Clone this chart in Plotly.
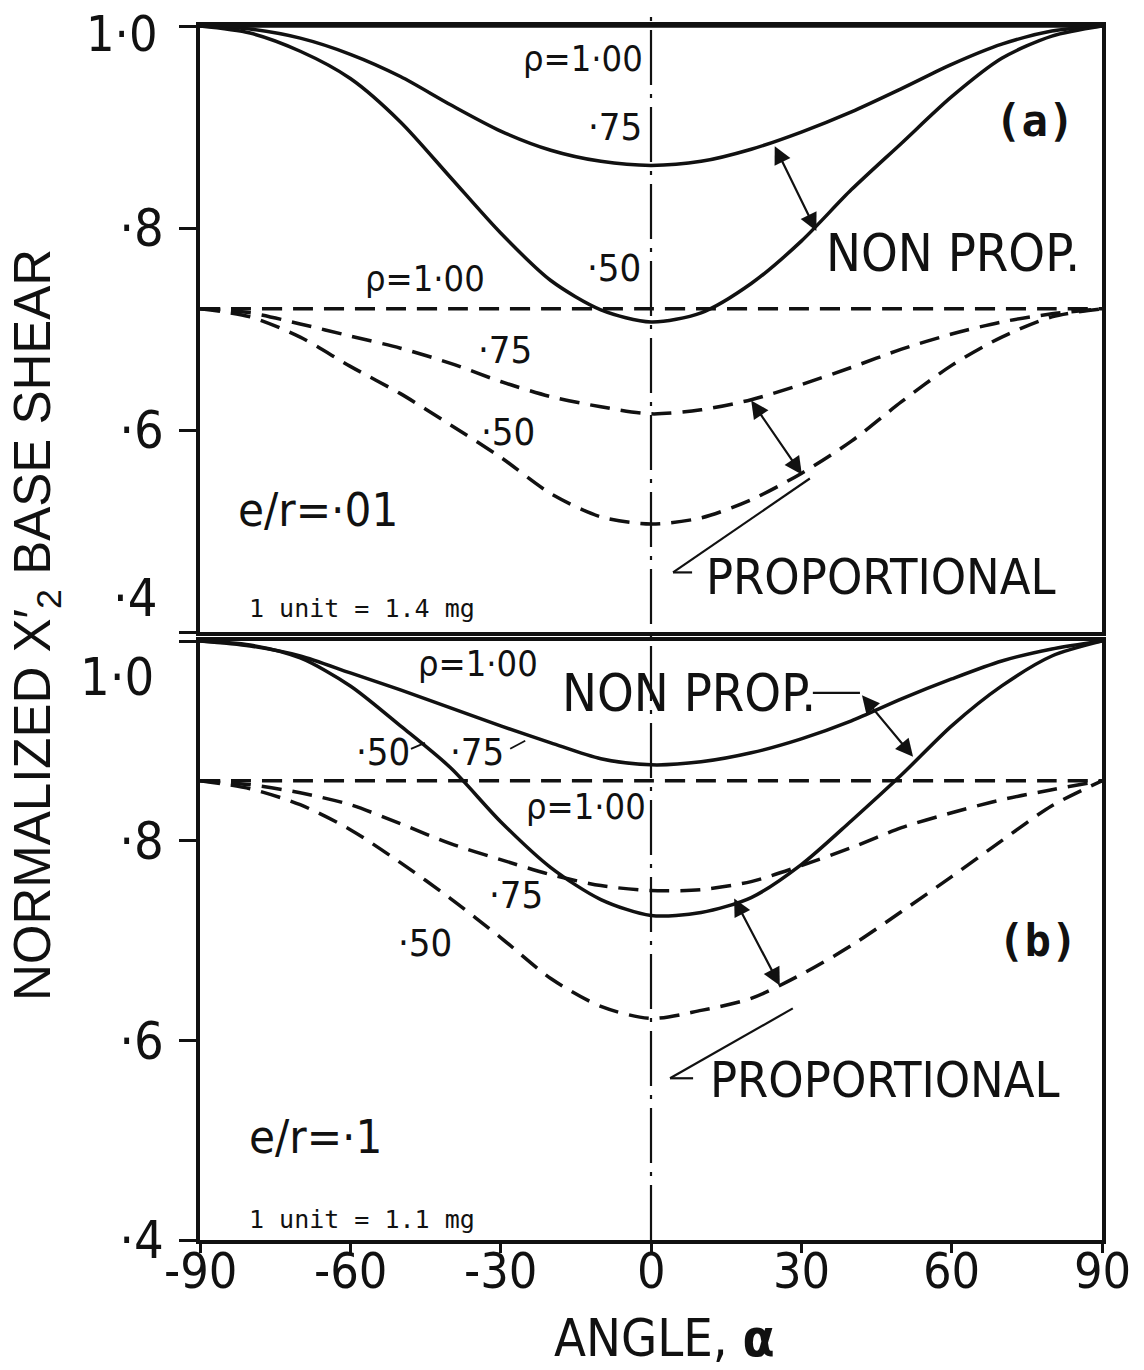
import plotly.graph_objects as go

# ---------------- data ----------------
angles = [-90, -80, -70, -60, -50, -40, -30, -20, -10, 0, 10, 20, 30, 40, 50, 60, 70, 80, 90]

# panel (a)  e/r = .01   -- non proportional (solid)
a_np_100 = [1.000, 1.000, 1.000, 1.000, 1.000, 1.000, 1.000, 1.000, 1.000, 1.000,
            1.000, 1.000, 1.000, 1.000, 1.000, 1.000, 1.000, 1.000, 1.000]
a_np_075 = [1.000, 0.997, 0.988, 0.972, 0.950, 0.922, 0.896, 0.877, 0.866, 0.862,
            0.866, 0.878, 0.895, 0.915, 0.938, 0.962, 0.982, 0.995, 1.000]
a_np_050 = [1.000, 0.993, 0.975, 0.948, 0.905, 0.850, 0.795, 0.748, 0.719, 0.707,
            0.716, 0.745, 0.787, 0.838, 0.884, 0.930, 0.968, 0.990, 1.000]
# panel (a)  -- proportional (dashed)
a_p_100 = [0.720, 0.720, 0.720, 0.720, 0.720, 0.720, 0.720, 0.720, 0.720, 0.720,
           0.720, 0.720, 0.720, 0.720, 0.720, 0.720, 0.720, 0.720, 0.720]
a_p_075 = [0.720, 0.716, 0.705, 0.693, 0.681, 0.666, 0.648, 0.633, 0.623, 0.616,
           0.620, 0.630, 0.645, 0.662, 0.680, 0.695, 0.707, 0.715, 0.720]
a_p_050 = [0.720, 0.712, 0.692, 0.663, 0.636, 0.605, 0.573, 0.537, 0.514, 0.507,
           0.513, 0.531, 0.557, 0.589, 0.628, 0.664, 0.692, 0.712, 0.720]

# panel (b)  e/r = .1   -- non proportional (solid)
b_np_100 = [1.000, 0.995, 0.985, 0.968, 0.951, 0.933, 0.915, 0.898, 0.882, 0.876,
            0.879, 0.888, 0.902, 0.920, 0.942, 0.962, 0.980, 0.992, 1.000]
b_np_050 = [1.000, 0.996, 0.983, 0.955, 0.915, 0.873, 0.819, 0.773, 0.741, 0.725,
            0.728, 0.743, 0.776, 0.820, 0.866, 0.915, 0.955, 0.985, 1.000]
# panel (b)  -- proportional (dashed)
b_p_100 = [0.860, 0.860, 0.860, 0.860, 0.860, 0.860, 0.860, 0.860, 0.860, 0.860,
           0.860, 0.860, 0.860, 0.860, 0.860, 0.860, 0.860, 0.860, 0.860]
b_p_075 = [0.860, 0.856, 0.848, 0.836, 0.817, 0.797, 0.781, 0.766, 0.755, 0.750,
           0.751, 0.759, 0.775, 0.793, 0.813, 0.828, 0.841, 0.851, 0.860]
b_p_050 = [0.860, 0.852, 0.836, 0.811, 0.778, 0.742, 0.703, 0.662, 0.634, 0.622,
           0.630, 0.642, 0.666, 0.695, 0.729, 0.764, 0.800, 0.835, 0.860]

x_tickvals = [-90, -60, -30, 0, 30, 60, 90]
x_ticktext = ["-90", "-60", "-30", "0", "30", "60", "90"]
y_tickvals = [0.4, 0.6, 0.8, 1.0]
ya_ticktext = ["", "·6", "·8", ""]
yb_ticktext = ["·4", "·6", "·8", ""]

# ---------------- styling ----------------
NARROW = "Liberation Sans Narrow, DejaVu Sans Condensed, Arial Narrow, sans-serif"
REG = "Liberation Sans, Arial, sans-serif"
MONO = "DejaVu Sans Mono, monospace"
BLACK = "#111111"
DASH = "20px,11px"
LW = 3.5

fig = go.Figure()

def add_curve(y, xa, ya, dashed):
    fig.add_trace(go.Scatter(
        x=angles, y=y, xaxis=xa, yaxis=ya, mode="lines",
        line=dict(color=BLACK, width=LW, dash=DASH if dashed else "solid",
                  shape="spline", smoothing=0.8),
        showlegend=False, hoverinfo="skip"))

for s, d in [(a_np_100, False), (a_np_075, False), (a_np_050, False),
             (a_p_100, True), (a_p_075, True), (a_p_050, True)]:
    add_curve(s, "x", "y", d)
for s, d in [(b_np_100, False), (b_np_050, False),
             (b_p_100, True), (b_p_075, True), (b_p_050, True)]:
    add_curve(s, "x2", "y2", d)

W, H = 1144, 1370
xdom = [200 / W, 1102 / W]
ydom_a = [(H - 632) / H, (H - 26) / H]
ydom_b = [(H - 1240) / H, (H - 641) / H]

axis_common = dict(showline=True, mirror=True, linecolor=BLACK, linewidth=3.5,
                   showgrid=False, zeroline=False, automargin=False)

fig.update_layout(
    width=W, height=H, autosize=False,
    margin=dict(l=0, r=0, t=0, b=0),
    paper_bgcolor="white", plot_bgcolor="white",
    xaxis=dict(domain=xdom, range=[-90, 90], anchor="y", showticklabels=False,
               ticks="", **axis_common),
    yaxis=dict(domain=ydom_a, range=[0.4, 1.0], anchor="x",
               tickvals=y_tickvals, ticktext=ya_ticktext, ticks="outside",
               ticklen=17, tickwidth=3, tickcolor=BLACK, ticklabelstandoff=5,
               tickfont=dict(family=NARROW, size=52, color=BLACK), **axis_common),
    xaxis2=dict(domain=xdom, range=[-90, 90], anchor="y2",
                tickvals=x_tickvals, showticklabels=False, ticks="outside",
                ticklen=9, tickwidth=3, tickcolor=BLACK, **axis_common),
    yaxis2=dict(domain=ydom_b, range=[0.4, 1.0], anchor="x2",
                tickvals=y_tickvals, ticktext=yb_ticktext, ticks="outside",
                ticklen=17, tickwidth=3, tickcolor=BLACK, ticklabelstandoff=5,
                tickfont=dict(family=NARROW, size=52, color=BLACK), **axis_common),
)

# dash-dot centre line through both panels
fig.add_shape(type="line", xref="x", yref="paper", x0=0, x1=0,
              y0=(H - 1240) / H, y1=(H - 13) / H,
              line=dict(color=BLACK, width=2.2, dash="55px,9px,4px,9px"))

ann = []

def txt(text, x, y, xr, yr, size, family=NARROW, xanchor="center", bold=False):
    ann.append(dict(text=("<b>%s</b>" % text) if bold else text, x=x, y=y,
                    xref=xr, yref=yr, showarrow=False, xanchor=xanchor,
                    yanchor="middle", font=dict(family=family, size=size, color=BLACK)))

def arrow2(x0, y0, x1, y1, xr, yr):
    ann.append(dict(x=x1, y=y1, ax=x0, ay=y0, xref=xr, yref=yr, axref=xr, ayref=yr,
                    text=" ", showarrow=True, arrowhead=2, startarrowhead=2,
                    arrowside="end+start", arrowsize=1.6, startarrowsize=1.6,
                    arrowwidth=2.2, arrowcolor=BLACK, font=dict(size=4)))

def seg(x0, y0, x1, y1, xr, yr, w=2.2):
    fig.add_shape(type="line", xref=xr, yref=yr, x0=x0, y0=y0, x1=x1, y1=y1,
                  line=dict(color=BLACK, width=w))

# ---- panel (a) labels
txt("ρ=1·00", -13.6, 0.968, "x", "y", 36)
txt("·75", -7.2, 0.900, "x", "y", 38)
txt("·50", -7.4, 0.760, "x", "y", 38)
txt("(a)", 76.6, 0.906, "x", "y", 44, family=MONO, bold=True)
txt("NON PROP.", 60.3, 0.775, "x", "y", 52)
txt("ρ=1·00", -45.1, 0.750, "x", "y", 36)
txt("·75", -29.1, 0.679, "x", "y", 38)
txt("·50", -28.5, 0.598, "x", "y", 38)
txt("e/r=·01", -66.4, 0.521, "x", "y", 47)
txt("1 unit = 1.4 mg", -80.6, 0.423, "x", "y", 25, family=MONO, xanchor="left")
txt("PROPORTIONAL", 45.9, 0.4545, "x", "y", 50)
arrow2(24.3, 0.885, 33.0, 0.797, "x", "y")
arrow2(19.6, 0.632, 30.1, 0.556, "x", "y")
seg(31.7, 0.552, 4.4, 0.459, "x", "y")
seg(4.4, 0.459, 8.2, 0.459, "x", "y")

# ---- panel (b) labels
txt("ρ=1·00", -34.5, 0.977, "x2", "y2", 36)
txt("NON PROP.", 7.6, 0.948, "x2", "y2", 52)
txt("·50", -53.5, 0.889, "x2", "y2", 38)
txt("·75", -34.7, 0.889, "x2", "y2", 38)
seg(-47.9, 0.892, -45.1, 0.898, "x2", "y2", 1.8)
seg(-28.1, 0.892, -25.1, 0.900, "x2", "y2", 1.8)
txt("ρ=1·00", -13.0, 0.834, "x2", "y2", 36)
txt("·75", -26.9, 0.746, "x2", "y2", 38)
txt("·50", -45.1, 0.697, "x2", "y2", 38)
txt("(b)", 77.2, 0.700, "x2", "y2", 44, family=MONO, bold=True)
txt("PROPORTIONAL", 46.7, 0.560, "x2", "y2", 50)
txt("e/r=·1", -66.9, 0.504, "x2", "y2", 47)
txt("1 unit = 1.1 mg", -80.6, 0.421, "x2", "y2", 25, family=MONO, xanchor="left")
seg(32.3, 0.948, 41.7, 0.948, "x2", "y2")
arrow2(41.7, 0.948, 52.3, 0.884, "x2", "y2")
arrow2(16.2, 0.746, 25.7, 0.655, "x2", "y2")
seg(28.3, 0.632, 3.8, 0.562, "x2", "y2")
seg(3.8, 0.562, 8.4, 0.562, "x2", "y2")

# tick labels placed off the tick positions (as in the original drawing)
txt("1·0", 160 / W, 0.9925, "paper", "y", 50, xanchor="right")
txt("·4", 160 / W, 0.434, "paper", "y", 52, xanchor="right")
txt("1·0", 156 / W, 0.964, "paper", "y2", 52, xanchor="right")
for v, t in zip(x_tickvals, x_ticktext):
    txt(t, v, (H - 1271) / H, "x2", "paper", 50)

# axis titles
ann.append(dict(text="NORMALIZED X′<sub>2</sub> BASE SHEAR", x=36 / W, y=(H - 625) / H,
                xref="paper", yref="paper", showarrow=False, textangle=-90,
                xanchor="center", yanchor="middle",
                font=dict(family=REG, size=51, color=BLACK)))
ann.append(dict(text="ANGLE, <b>α</b>", x=664 / W, y=(H - 1338) / H,
                xref="paper", yref="paper", showarrow=False,
                xanchor="center", yanchor="middle",
                font=dict(family=NARROW, size=52, color=BLACK)))

fig.update_layout(annotations=ann)
fig.write_html("out.html")
